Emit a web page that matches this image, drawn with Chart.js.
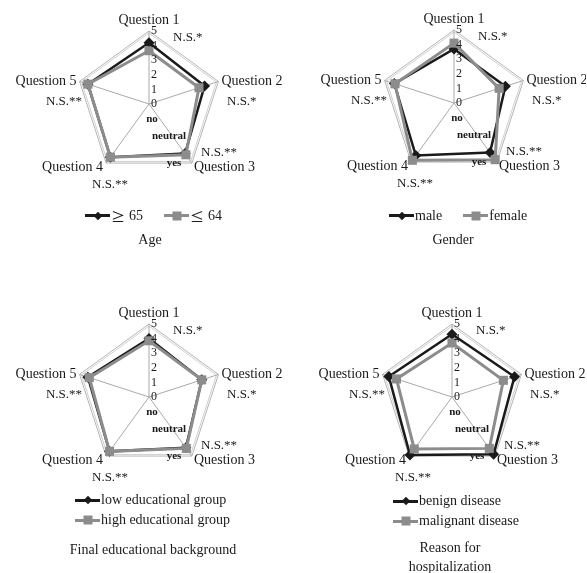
<!DOCTYPE html>
<html>
<head>
<meta charset="utf-8">
<script src="https://cdn.jsdelivr.net/npm/chart.js@4.4.0/dist/chart.umd.min.js"></script>
<style>
  body { margin: 0; background: #fff; }
  #page { position: relative; width: 587px; height: 573px; font-family: "Liberation Serif", "Times New Roman", serif; color: #1a1a1a; }
  canvas { position: absolute; }
  .legend { position: absolute; font-size: 14px; line-height: 20px; white-space: nowrap; }
  .item { display: inline-flex; align-items: center; margin-right: 21px; }
  .legend.vertical .item { display: flex; margin-right: 0; }
  .swatch { position: relative; width: 25px; height: 3px; margin-right: 1px; }
  .swatch i { position: absolute; left: 50%; top: 50%; }
  .swatch.dark { background: #1a1a1a; }
  .swatch.dark i { width: 6px; height: 6px; background: #1a1a1a; transform: translate(-50%, -50%) rotate(45deg); }
  .swatch.light { background: #8c8c8c; }
  .swatch.light i { width: 9px; height: 9px; background: #8c8c8c; transform: translate(-50%, -50%); }
  .sym { font-family: "Noto Sans CJK JP", serif; font-size: 14px; margin-right: 4px; }
  .title { position: absolute; width: 220px; font-size: 14px; line-height: 19px; text-align: center; }
</style>
</head>
<body>
<div id="page">
  <canvas id="age" width="293" height="286" style="left:0;top:0"></canvas>
  <canvas id="gender" width="293" height="286" style="left:293px;top:0"></canvas>
  <canvas id="education" width="293" height="286" style="left:0;top:287px"></canvas>
  <canvas id="hospital" width="293" height="286" style="left:293px;top:287px"></canvas>

  <div class="legend" style="left:85px;top:203px">
    <span class="item"><span class="swatch dark"><i></i></span><span class="sym">≥</span>65</span><span class="item"><span class="swatch light"><i></i></span><span class="sym">≤</span>64</span>
  </div>
  <div class="title" style="left:40px;top:230px">Age</div>

  <div class="legend" style="left:389px;top:203px">
    <span class="item"><span class="swatch dark"><i></i></span>male</span><span class="item"><span class="swatch light"><i></i></span>female</span>
  </div>
  <div class="title" style="left:343px;top:230px">Gender</div>

  <div class="legend vertical" style="left:75px;top:490px">
    <span class="item"><span class="swatch dark"><i></i></span>low educational group</span>
    <span class="item"><span class="swatch light"><i></i></span>high educational group</span>
  </div>
  <div class="title" style="left:43px;top:540px">Final educational background</div>

  <div class="legend vertical" style="left:393px;top:491px">
    <span class="item"><span class="swatch dark"><i></i></span>benign disease</span>
    <span class="item"><span class="swatch light"><i></i></span>malignant disease</span>
  </div>
  <div class="title" style="left:340px;top:538px">Reason for<br>hospitalization</div>
</div>

<script>
// axes and annotations
const questions = ['Question 1', 'Question 2', 'Question 3', 'Question 4', 'Question 5'];
const significance = ['N.S.*', 'N.S.*', 'N.S.**', 'N.S.**', 'N.S.**'];
const tickValues = [0, 1, 2, 3, 4, 5];
const answerLabels = ['no', 'neutral', 'yes'];

// mean scores per question
const ageOver65 = [4.2, 4.0, 4.2, 4.5, 4.4];
const ageUnder64 = [3.65, 3.6, 4.3, 4.5, 4.4];
const male = [3.7, 3.7, 4.2, 4.45, 4.3];
const female = [4.1, 3.25, 4.8, 4.85, 4.25];
const lowEducation = [4.0, 3.8, 4.3, 4.6, 4.4];
const highEducation = [3.85, 3.8, 4.35, 4.6, 4.3];
const benignDisease = [4.3, 4.5, 4.85, 4.9, 4.55];
const malignantDisease = [3.7, 3.7, 4.35, 4.4, 4.0];

const DARK = '#1a1a1a';
const LIGHT = '#8c8c8c';
const SERIF = '"Liberation Serif", "Times New Roman", serif';

// where the question / N.S. labels sit around each spoke
const questionPlacement = [
  { align: 'center', dx: 0, dy: -11 },
  { align: 'left', dx: 3, dy: 0 },
  { align: 'left', dx: 2, dy: 4 },
  { align: 'right', dx: -3, dy: 4 },
  { align: 'right', dx: -3, dy: 0 }
];
const significancePlacement = [
  { align: 'left', x: 24, y: -66 },
  { align: 'left', x: 78, y: -2 },
  { align: 'left', x: 52, y: 49 },
  { align: 'left', x: -57, y: 81 },
  { align: 'right', x: -67, y: -2 }
];
const answerPlacement = [
  { x: 3, y: 15 },
  { x: 20, y: 32 },
  { x: 25, y: 59 }
];

const radarLabels = {
  id: 'radarLabels',
  afterDraw(chart) {
    const scale = chart.scales.r;
    const ctx = chart.ctx;
    const cx = scale.xCenter;
    const cy = scale.yCenter;
    ctx.save();
    ctx.fillStyle = DARK;
    ctx.textBaseline = 'middle';

    ctx.font = '14px ' + SERIF;
    questions.forEach((q, i) => {
      const p = scale.getPointPosition(i, scale.drawingArea);
      const place = questionPlacement[i];
      ctx.textAlign = place.align;
      ctx.fillText(q, p.x + place.dx, p.y + place.dy);
    });

    ctx.font = '13px ' + SERIF;
    significance.forEach((s, i) => {
      const place = significancePlacement[i];
      ctx.textAlign = place.align;
      ctx.fillText(s, cx + place.x, cy + place.y);
    });

    ctx.font = '12px ' + SERIF;
    ctx.textAlign = 'center';
    tickValues.forEach((v) => {
      ctx.fillText(String(v), cx + 5, cy - scale.getDistanceFromCenterForValue(v));
    });

    ctx.font = 'bold 11px ' + SERIF;
    answerLabels.forEach((a, i) => {
      ctx.fillText(a, cx + answerPlacement[i].x, cy + answerPlacement[i].y);
    });
    ctx.restore();
  }
};

function makeRadar(id, center, darkValues, lightValues) {
  const canvas = document.getElementById(id);
  const radius = 73;
  const left = center[0] - radius;
  const top = center[1] - radius;

  return new Chart(canvas, {
    type: 'radar',
    data: {
      labels: questions,
      datasets: [
        {
          data: darkValues,
          order: 1,
          borderColor: DARK,
          borderWidth: 2.5,
          pointStyle: 'rectRot',
          pointRadius: 5.5,
          pointBackgroundColor: DARK,
          pointBorderColor: DARK,
          pointBorderWidth: 0,
          fill: false
        },
        {
          data: lightValues,
          order: 0,
          borderColor: LIGHT,
          borderWidth: 3,
          pointStyle: 'rect',
          pointRadius: 6.4,
          pointBackgroundColor: LIGHT,
          pointBorderColor: LIGHT,
          pointBorderWidth: 0,
          fill: false
        }
      ]
    },
    options: {
      responsive: false,
      animation: false,
      events: [],
      layout: {
        padding: {
          left: left,
          top: top,
          right: canvas.width - left - radius * 2,
          bottom: canvas.height - top - radius * 2
        }
      },
      elements: { line: { tension: 0 } },
      plugins: {
        legend: { display: false },
        tooltip: { enabled: false }
      },
      scales: {
        r: {
          min: 0,
          max: 5,
          afterBuildTicks: (scale) => {
            scale.ticks = [0, 4.86, 5].map((v) => ({ value: v }));
          },
          ticks: { display: false },
          pointLabels: { display: false },
          grid: {
            color: (c) => (c.tick && c.tick.value === 5 ? '#b5b5b5' : '#cfcfcf'),
            lineWidth: 1
          },
          angleLines: { color: '#a9a9a9', lineWidth: 1 }
        }
      }
    },
    plugins: [radarLabels]
  });
}

makeRadar('age', [149, 104], ageOver65, ageUnder64);
makeRadar('gender', [161, 103], male, female);
makeRadar('education', [149, 110], lowEducation, highEducation);
makeRadar('hospital', [159, 110], benignDisease, malignantDisease);
</script>
</body>
</html>
